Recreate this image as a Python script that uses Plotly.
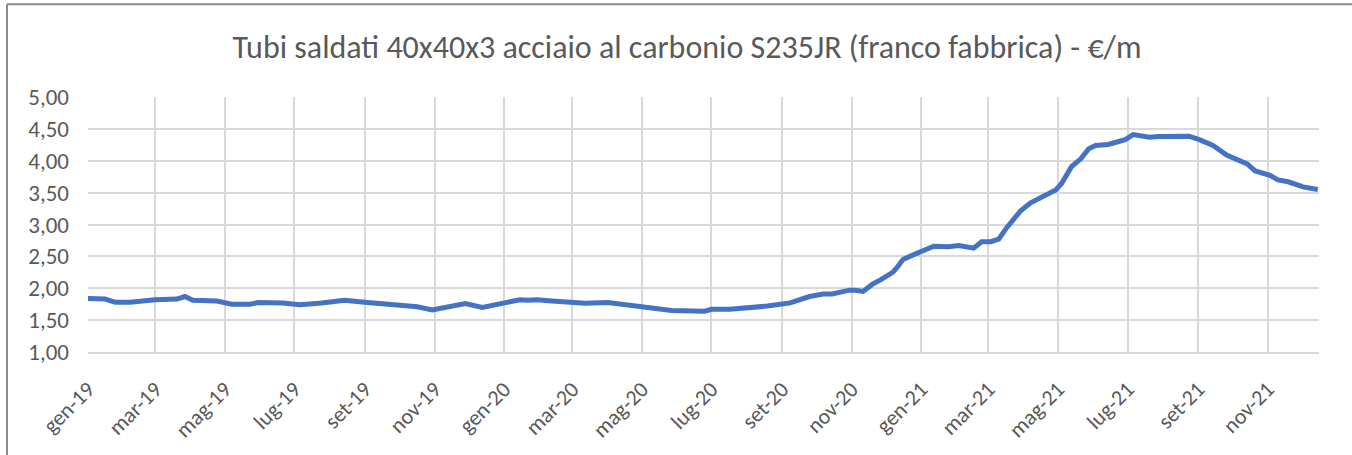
import plotly.graph_objects as go

dates = [
    "2019-01-01", "2019-01-16", "2019-01-25", "2019-02-07", "2019-03-01", "2019-03-20",
    "2019-03-27", "2019-04-03", "2019-04-24", "2019-05-07", "2019-05-23", "2019-05-30",
    "2019-06-21", "2019-07-06", "2019-07-25", "2019-08-14", "2019-09-03", "2019-09-23",
    "2019-10-17", "2019-10-30", "2019-11-12", "2019-11-28", "2019-12-13", "2020-01-02",
    "2020-01-15", "2020-01-22", "2020-01-30", "2020-02-12", "2020-02-21", "2020-03-12",
    "2020-04-01", "2020-04-22", "2020-05-01", "2020-05-27", "2020-06-25", "2020-07-01",
    "2020-07-17", "2020-08-19", "2020-09-08", "2020-09-25", "2020-10-07", "2020-10-15",
    "2020-10-30", "2020-11-04", "2020-11-11", "2020-11-19", "2020-11-27", "2020-12-07",
    "2020-12-11", "2020-12-16", "2020-12-22", "2021-01-03", "2021-01-12", "2021-01-25",
    "2021-02-03", "2021-02-16", "2021-02-23", "2021-03-03", "2021-03-10", "2021-03-17",
    "2021-03-29", "2021-04-07", "2021-04-17", "2021-04-29", "2021-05-04", "2021-05-13",
    "2021-05-21", "2021-05-28", "2021-06-03", "2021-06-14", "2021-06-21", "2021-06-29",
    "2021-07-06", "2021-07-20", "2021-07-28", "2021-08-24", "2021-09-02", "2021-09-14",
    "2021-09-26", "2021-10-05", "2021-10-14", "2021-10-21", "2021-11-03", "2021-11-10",
    "2021-11-19", "2021-12-02", "2021-12-15",
]
prices = [
    1.84, 1.83, 1.78, 1.78, 1.82, 1.83,
    1.87, 1.81, 1.80, 1.75, 1.75, 1.775,
    1.77, 1.74, 1.77, 1.81, 1.775, 1.74,
    1.71, 1.66, 1.70, 1.76, 1.70, 1.77,
    1.82, 1.81, 1.82, 1.80, 1.795, 1.765,
    1.775, 1.73, 1.72, 1.65, 1.64, 1.67,
    1.67, 1.72, 1.77, 1.87, 1.91, 1.91,
    1.97, 1.97, 1.95, 2.06, 2.14, 2.25,
    2.33, 2.45, 2.50, 2.58, 2.66, 2.65,
    2.67, 2.63, 2.73, 2.73, 2.77, 2.95,
    3.21, 3.34, 3.43, 3.54, 3.64, 3.91,
    4.03, 4.19, 4.24, 4.255, 4.29, 4.33,
    4.41, 4.37, 4.38, 4.385, 4.33, 4.24,
    4.09, 4.02, 3.95, 3.84, 3.77, 3.70,
    3.67, 3.59, 3.55,
]

tick_dates = [
    "2019-01-01", "2019-03-01", "2019-05-01", "2019-07-01", "2019-09-01", "2019-11-01",
    "2020-01-01", "2020-03-01", "2020-05-01", "2020-07-01", "2020-09-01", "2020-11-01",
    "2021-01-01", "2021-03-01", "2021-05-01", "2021-07-01", "2021-09-01", "2021-11-01",
]
tick_labels = [
    "gen-19", "mar-19", "mag-19", "lug-19", "set-19", "nov-19",
    "gen-20", "mar-20", "mag-20", "lug-20", "set-20", "nov-20",
    "gen-21", "mar-21", "mag-21", "lug-21", "set-21", "nov-21",
]
y_ticks = [1.0, 1.5, 2.0, 2.5, 3.0, 3.5, 4.0, 4.5, 5.0]

title = "Tubi saldati 40x40x3 acciaio al carbonio S235JR (franco fabbrica) - €/m"

FONT = "Carlito, Calibri, Lato, sans-serif"
GREY = "#595959"
GRID = "#d9d9d9"

fig = go.Figure()
fig.add_trace(go.Scatter(
    x=dates, y=prices, mode="lines",
    line=dict(color="#4472C4", width=5, shape="linear"),
    hoverinfo="x+y", showlegend=False,
))

fig.update_layout(
    width=1352, height=455,
    paper_bgcolor="white", plot_bgcolor="white",
    margin=dict(l=88, r=33, t=97, b=103),
    separators=",.",
    font=dict(family=FONT, color=GREY, size=22),
    title=dict(text=title, x=687 / 1352, xref="container", y=1 - 47 / 455, yref="container",
               xanchor="center", yanchor="middle",
               font=dict(family=FONT, size=32, color=GREY)),
    xaxis=dict(
        type="date",
        range=["2019-01-01", "2021-12-16"],
        tickmode="array", tickvals=tick_dates, ticktext=tick_labels,
        tickangle=-45, tickfont=dict(size=22, color=GREY, family=FONT),
        showgrid=True, gridcolor=GRID, gridwidth=1.5,
        showline=True, linecolor=GRID, linewidth=1.5,
        ticks="", zeroline=False,
        ticklabelstandoff=14,
    ),
    yaxis=dict(
        range=[1.0, 5.0],
        tickmode="array", tickvals=y_ticks, tickformat=".2f",
        tickfont=dict(size=23, color=GREY, family=FONT),
        showgrid=True, gridcolor=GRID, gridwidth=1.5,
        showline=False, ticks="", zeroline=False,
        ticklabelstandoff=18,
    ),
    shapes=[
        dict(type="line", xref="paper", yref="paper",
             x0=-0.0658, x1=1.1, y0=1.364, y1=1.364,
             line=dict(color="#8c8c8c", width=2)),
        dict(type="line", xref="paper", yref="paper",
             x0=-0.0658, x1=-0.0658, y0=1.364, y1=-0.45,
             line=dict(color="#8c8c8c", width=2)),
    ],
)

fig.write_html("out.html", config={"displayModeBar": False},
               post_script="document.body.style.margin='0';")
